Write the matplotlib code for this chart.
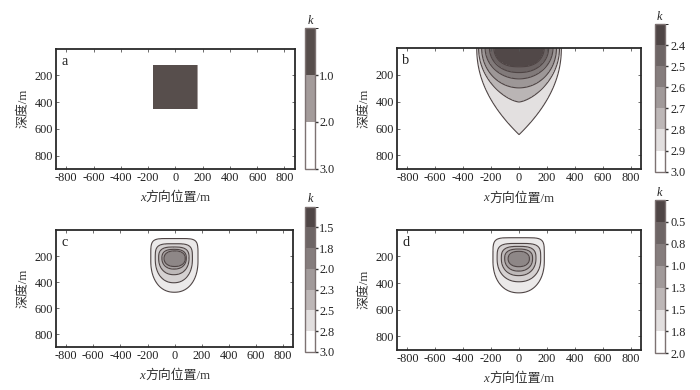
import numpy as np
import matplotlib
matplotlib.use("Agg")
import matplotlib.pyplot as plt
from matplotlib.offsetbox import TextArea, HPacker, AnchoredOffsetbox
from matplotlib.colors import ListedColormap, BoundaryNorm
from matplotlib.cm import ScalarMappable

plt.rcParams['font.family'] = ['Liberation Serif', 'Noto Sans CJK SC']
plt.rcParams['axes.unicode_minus'] = False

# ---------------- data ----------------
x_ticks = [-800, -600, -400, -200, 0, 200, 400, 600, 800]
depth_ticks = [200, 400, 600, 800]
x_range = [-875, 875]
depth_range = [0, 900]

# panel a: rectangular body
a_levels = [0.0, 1.0, 2.0, 3.0]
a_ticks = [1.0, 2.0, 3.0]
a_ticklabels = ['1.0', '2.0', '3.0']
a_colors = ['#574e4c', '#a39b9a', '#ffffff']
a_body_x = [-166, 166]
a_body_depth = [120, 455]
a_k_inside = 0.5
a_k_outside = 2.5

# panel b: open-top nested contours (outer -> inner)
b_levels = [2.3, 2.4, 2.5, 2.6, 2.7, 2.8, 2.9, 3.0]
b_ticklabels = ['2.4', '2.5', '2.6', '2.7', '2.8', '2.9', '3.0']
b_halfwidth = [303, 290, 268, 243, 212, 180]
b_bottom = [645, 402, 297, 230, 183, 140]
b_px = [1.0, 1.5, 2.0, 2.0, 2.2, 2.6]
b_pz = [2.1, 2.0, 2.0, 2.0, 2.0, 2.0]

# panel c: closed nested contours (outer -> inner)
c_levels = [1.25, 1.5, 1.75, 2.0, 2.25, 2.5, 2.75, 3.0]
c_ticklabels = ['1.5', '1.8', '2.0', '2.3', '2.5', '2.8', '3.0']
c_xc = [-2, -6, -6, -4, 0]
c_halfwidth = [174, 137, 112, 90, 78]
c_top = [65, 105, 130, 148, 160]
c_widest = [235, 222, 216, 216, 218]
c_bottom = [478, 405, 343, 300, 280]
c_pup = [6.0, 4.0, 3.0, 2.6, 2.3]
c_pdn = [2.2, 2.2, 2.2, 2.2, 2.2]

# panel d
d_levels = [0.25, 0.5, 0.75, 1.0, 1.25, 1.5, 1.75, 2.0]
d_ticklabels = ['0.5', '0.8', '1.0', '1.3', '1.5', '1.8', '2.0']
d_xc = [-3, -1, -3, -3, -2]
d_halfwidth = [184, 156, 124, 100, 76]
d_top = [60, 103, 125, 145, 162]
d_widest = [230, 218, 215, 215, 218]
d_bottom = [473, 390, 344, 310, 277]
d_pup = [6.0, 4.0, 3.0, 2.6, 2.3]
d_pdn = [2.2, 2.2, 2.2, 2.2, 2.2]

bar_colors = ['#4f4646', '#6d6565', '#857d7d', '#a19a9a', '#bdb7b7', '#e2dfdf', '#ffffff']
b_fill_colors = ['#514848', '#6b6363', '#817a7a', '#9d9797', '#bab5b5', '#e3e0e0', '#ffffff']
cd_fill_colors = ['#5a5252', '#8e8787', '#a7a1a1', '#bdb8b8', '#d5d1d1', '#ebe9e9', '#ffffff']
line_color = '#4e4444'
outline_color = '#7d7272'

# ---------------- grid ----------------
xg = np.linspace(x_range[0], x_range[1], 876)
dg = np.linspace(depth_range[0], depth_range[1], 451)
X, D = np.meshgrid(xg, dg)


def sigmoid(v):
    return 1.0 / (1.0 + np.exp(-np.clip(v, -60, 60)))


def field_open(levels, halfw, bottom, px, pz, eps=0.012):
    step = levels[1] - levels[0]
    base = levels[-1] - step / 2
    s = np.zeros_like(X)
    for w, b, p1, p2 in zip(halfw, bottom, px, pz):
        r = (np.abs(X) / w) ** p1 + (D / b) ** p2
        s += sigmoid((1 - r) / eps)
    return base - step * s


def field_closed(levels, xc, halfw, top, widest, bottom, pup, pdn, eps=0.015):
    step = levels[1] - levels[0]
    base = levels[-1] - step / 2
    s = np.zeros_like(X)
    for x0, w, t, zc, b, pu, pd in zip(xc, halfw, top, widest, bottom, pup, pdn):
        dz = D - zc
        az = np.where(dz < 0, zc - t, b - zc)
        p = np.where(dz < 0, pu, pd)
        r = (np.abs(X - x0) / w) ** p + (np.abs(dz) / az) ** p
        s += sigmoid((1 - r) / eps)
    return base - step * s


K_a = np.where((X >= a_body_x[0]) & (X <= a_body_x[1]) &
               (D >= a_body_depth[0]) & (D <= a_body_depth[1]), a_k_inside, a_k_outside)
K_b = field_open(b_levels, b_halfwidth, b_bottom, b_px, b_pz)
K_c = field_closed(c_levels, c_xc, c_halfwidth, c_top, c_widest, c_bottom, c_pup, c_pdn)
K_d = field_closed(d_levels, d_xc, d_halfwidth, d_top, d_widest, d_bottom, d_pup, d_pdn)

# ---------------- figure ----------------
fig = plt.figure(figsize=(7.0, 3.9), dpi=100)

panels = [
    dict(pos=[0.080, 0.567, 0.341, 0.308], cpos=[0.436, 0.567, 0.0143, 0.361], K=K_a,
         levels=a_levels, colors=a_colors, bcolors=a_colors, ticks=a_ticks, tl=a_ticklabels,
         lines=False, label='a', pad=0.5),
    dict(pos=[0.567, 0.567, 0.349, 0.310], cpos=[0.935, 0.560, 0.0143, 0.378], K=K_b,
         levels=b_levels, colors=b_fill_colors, bcolors=bar_colors, ticks=b_levels[1:],
         tl=b_ticklabels, lines=True, label='b', pad=2.0),
    dict(pos=[0.080, 0.110, 0.339, 0.300], cpos=[0.436, 0.098, 0.0143, 0.372], K=K_c,
         levels=c_levels, colors=cd_fill_colors, bcolors=bar_colors, ticks=c_levels[1:],
         tl=c_ticklabels, lines=True, label='c', pad=0.5),
    dict(pos=[0.567, 0.103, 0.349, 0.308], cpos=[0.935, 0.094, 0.0143, 0.393], K=K_d,
         levels=d_levels, colors=cd_fill_colors, bcolors=bar_colors, ticks=d_levels[1:],
         tl=d_ticklabels, lines=True, label='d', pad=2.0),
]

fs = 8.8
for p in panels:
    ax = fig.add_axes(p['pos'])
    ax.contourf(X, D, p['K'], levels=p['levels'], colors=p['colors'])
    if p['lines']:
        ax.contour(X, D, p['K'], levels=p['levels'][1:-1], colors=line_color, linewidths=0.8)
    ax.set_xlim(x_range)
    ax.set_ylim(depth_range[1], depth_range[0])
    ax.set_xticks(x_ticks)
    ax.set_yticks(depth_ticks)
    ax.tick_params(direction='in', length=2.5, width=0.6, labelsize=fs, pad=2,
                   top=True, right=True, colors='#555555', labelcolor='#222222')
    for sp in ax.spines.values():
        sp.set_color('#2a2a2a')
        sp.set_linewidth(1.3)
    ax.set_ylabel('深度/m', fontsize=fs + 0.5, labelpad=4, color='#333333')
    ax.text(0.022, 0.95, p['label'], transform=ax.transAxes, ha='left', va='top',
            fontsize=fs + 1.5, color='#222222')
    # x label with italic x
    t1 = TextArea('x', textprops=dict(style='italic', size=fs + 0.5, color='#333333'))
    t2 = TextArea('方向位置/m', textprops=dict(size=fs + 0.5, color='#333333'))
    box = HPacker(children=[t1, t2], align='baseline', pad=0, sep=0)
    ab = AnchoredOffsetbox(loc='upper center', child=box, pad=0, borderpad=0, frameon=False,
                           bbox_to_anchor=(0.5, -0.19), bbox_transform=ax.transAxes)
    ax.add_artist(ab)

    cax = fig.add_axes(p['cpos'])
    sm = ScalarMappable(norm=BoundaryNorm(p['levels'], len(p['bcolors'])),
                        cmap=ListedColormap(p['bcolors']))
    cb = fig.colorbar(sm, cax=cax, ticks=p['ticks'], drawedges=True,
                      boundaries=p['levels'], spacing='uniform')
    cax.invert_yaxis()
    cb.set_ticklabels(p['tl'])
    cb.outline.set_edgecolor(outline_color)
    cb.outline.set_linewidth(1.0)
    cb.dividers.set_color('#3a3030')
    cb.dividers.set_linewidth(1.0)
    cax.tick_params(direction='out', length=2.5, width=1.0, labelsize=fs, pad=p['pad'],
                    colors='#333333', labelcolor='#222222')
    cax.text(0.5, 1.01, 'k', transform=cax.transAxes, ha='center', va='bottom',
             style='italic', fontsize=fs, color='#222222')

fig.savefig('out.png', dpi=100)
